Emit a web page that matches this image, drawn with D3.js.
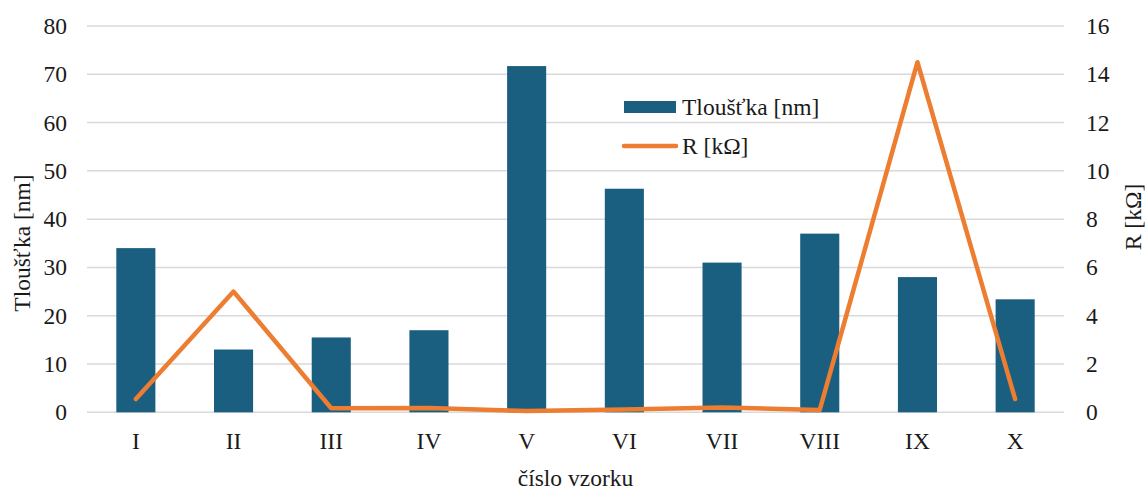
<!DOCTYPE html>
<html>
<head>
<meta charset="utf-8">
<script src="https://cdn.jsdelivr.net/npm/d3@7"></script>
</head>
<body style="margin:0;padding:0;background:#fff">
<svg id="chart" width="1148" height="490"></svg>
<script>
// Sample labels and measured values
const categories = ["I", "II", "III", "IV", "V", "VI", "VII", "VIII", "IX", "X"];
const thickness = [34, 13, 15.5, 17, 71.7, 46.3, 31, 37, 28, 23.4];      // Tloušťka [nm]
const resistance = [0.55, 5.0, 0.17, 0.18, 0.05, 0.12, 0.2, 0.1, 14.5, 0.55]; // R [kΩ]
const leftTicks = [0, 10, 20, 30, 40, 50, 60, 70, 80];
const rightTicks = [0, 2, 4, 6, 8, 10, 12, 14, 16];
const seriesNames = ["Tloušťka [nm]", "R [kΩ]"];

const barColor = "#1a5e80";
const lineColor = "#ed7d31";
const gridColor = "#d9d9d9";
const textColor = "#1a1a1a";
const fontFamily = "'Liberation Serif'";
const fontSize = "23.5px";

const svg = d3.select("#chart");
const plot = { left: 87, right: 1064, top: 26, bottom: 412.3 };

const x = d3.scaleBand().domain(categories).range([plot.left, plot.right]).paddingInner(0.6).paddingOuter(0.3);
const xCenter = d3.scaleBand().domain(categories).range([plot.left, plot.right]);
const yL = d3.scaleLinear().domain([0, 80]).range([plot.bottom, plot.top]);
const yR = d3.scaleLinear().domain([0, 16]).range([plot.bottom, plot.top]);

function styleText(sel) {
  sel.style("font-family", fontFamily).style("font-size", fontSize).attr("fill", textColor);
}

// Horizontal gridlines
svg.append("g").selectAll("line").data(leftTicks).join("line")
  .attr("x1", plot.left).attr("x2", plot.right)
  .attr("y1", d => yL(d)).attr("y2", d => yL(d))
  .attr("stroke", gridColor).attr("stroke-width", 1.5);

// Left axis labels
const leftAxis = svg.append("g").attr("transform", `translate(${plot.left},0)`)
  .call(d3.axisLeft(yL).tickValues(leftTicks).tickSize(0).tickPadding(20));
leftAxis.select(".domain").remove();
styleText(leftAxis.selectAll("text"));

// Right axis labels
const rightAxis = svg.append("g").attr("transform", `translate(${plot.right},0)`)
  .call(d3.axisRight(yR).tickValues(rightTicks).tickSize(0).tickPadding(22));
rightAxis.select(".domain").remove();
styleText(rightAxis.selectAll("text"));

// Category axis labels
const bottomAxis = svg.append("g").attr("transform", `translate(0,${plot.bottom})`)
  .call(d3.axisBottom(xCenter).tickSize(0).tickPadding(20));
bottomAxis.select(".domain").remove();
styleText(bottomAxis.selectAll("text"));

// Bars
svg.append("g").selectAll("rect").data(categories).join("rect")
  .attr("x", d => x(d))
  .attr("width", x.bandwidth())
  .attr("y", (d, i) => yL(thickness[i]))
  .attr("height", (d, i) => yL(0) - yL(thickness[i]))
  .attr("fill", barColor);

// Resistance line
const line = d3.line()
  .x((d, i) => xCenter(categories[i]) + xCenter.bandwidth() / 2)
  .y(d => yR(d));
svg.append("path").datum(resistance)
  .attr("d", line)
  .attr("fill", "none")
  .attr("stroke", lineColor)
  .attr("stroke-width", 4.5)
  .attr("stroke-linejoin", "round")
  .attr("stroke-linecap", "round");

// Axis titles
styleText(svg.append("text")
  .attr("transform", "translate(30,243) rotate(-90)")
  .attr("text-anchor", "middle")
  .text("Tloušťka [nm]"));
styleText(svg.append("text")
  .attr("transform", "translate(1141,217) rotate(-90)")
  .attr("text-anchor", "middle")
  .text("R [kΩ]"));
styleText(svg.append("text")
  .attr("x", (plot.left + plot.right) / 2).attr("y", 486)
  .attr("text-anchor", "middle")
  .text("číslo vzorku"));

// Legend
const legend = svg.append("g").attr("transform", "translate(624,0)");
legend.append("rect").attr("x", 0).attr("y", 101).attr("width", 52).attr("height", 12).attr("fill", barColor);
styleText(legend.append("text").attr("x", 58).attr("y", 115).text(seriesNames[0]));
legend.append("line").attr("x1", 0).attr("x2", 52).attr("y1", 146).attr("y2", 146)
  .attr("stroke", lineColor).attr("stroke-width", 4.5).attr("stroke-linecap", "round");
styleText(legend.append("text").attr("x", 58).attr("y", 154).text(seriesNames[1]));
</script>
</body>
</html>
